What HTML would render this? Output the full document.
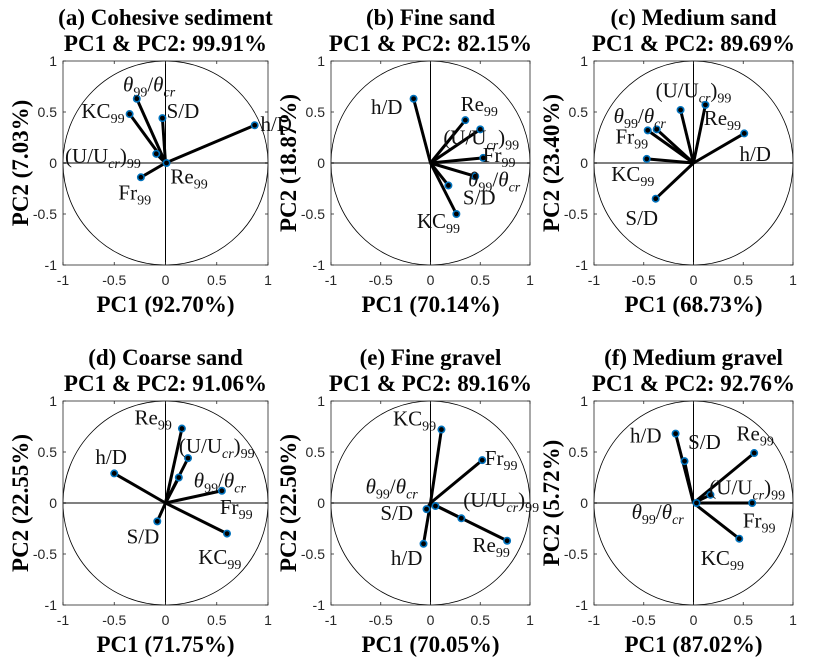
<!DOCTYPE html>
<html><head><meta charset="utf-8"><style>
html,body{margin:0;padding:0;background:#fff;}
svg{display:block;}
.tick{font-family:"Liberation Sans",sans-serif;font-size:14px;fill:#262626;}
.ttl{font-family:"Liberation Serif",serif;font-size:23px;font-weight:bold;fill:#000;}
.lbl{font-family:"Liberation Serif",serif;font-size:21px;fill:#111;}
</style></head><body>
<svg id="fig" width="817" height="666" viewBox="0 0 817 666" xmlns="http://www.w3.org/2000/svg"></svg>
<script>
// ---- data (loadings per panel) ----
const vars = ['theta','KC','SD','hD','U','Re','Fr'];
const titlesA = ['(a) Cohesive sediment','(b) Fine sand','(c) Medium sand','(d) Coarse sand','(e) Fine gravel','(f) Medium gravel'];
const totals = ['99.91%','82.15%','89.69%','91.06%','89.16%','92.76%'];
const pc1Pct = ['92.70%','70.14%','68.73%','71.75%','70.05%','87.02%'];
const pc2Pct = ['7.03%','18.87%','23.40%','22.55%','22.50%','5.72%'];
// PC1 / PC2 loadings, order of vars
const pc1A = [-0.28,-0.35,-0.03,0.87,-0.09,0.01,-0.24];
const pc2A = [0.63,0.48,0.44,0.37,0.09,0.00,-0.14];
const pc1B = [0.45,0.26,0.18,-0.17,0.50,0.35,0.53];
const pc2B = [-0.13,-0.50,-0.22,0.63,0.33,0.42,0.05];
const pc1C = [-0.37,-0.47,-0.38,0.51,-0.13,0.12,-0.46];
const pc2C = [0.33,0.04,-0.35,0.29,0.52,0.57,0.32];
const pc1D = [0.13,0.60,-0.08,-0.50,0.22,0.16,0.55];
const pc2D = [0.25,-0.30,-0.18,0.29,0.44,0.73,0.12];
const pc1E = [0.05,0.11,-0.04,-0.07,0.31,0.77,0.52];
const pc2E = [-0.03,0.72,-0.06,-0.40,-0.15,-0.37,0.42];
const pc1F = [0.03,0.46,-0.09,-0.18,0.17,0.61,0.59];
const pc2F = [0.00,-0.35,0.41,0.68,0.08,0.49,0.00];
// label anchor positions (data units)
const lxA = [-0.16,-0.61,0.17,1.08,-0.61,0.23,-0.30];
const lyA = [0.77,0.51,0.51,0.38,0.07,-0.13,-0.29];
const lxB = [0.64,0.08,0.49,-0.44,0.51,0.49,0.69];
const lyB = [-0.16,-0.57,-0.34,0.55,0.25,0.58,0.08];
const lxC = [-0.54,-0.61,-0.52,0.62,0.00,0.29,-0.62];
const lyC = [0.46,-0.11,-0.54,0.09,0.71,0.44,0.26];
const lxD = [0.53,0.53,-0.22,-0.53,0.50,-0.12,0.69];
const lyD = [0.22,-0.53,-0.33,0.45,0.56,0.84,-0.04];
const lxE = [-0.39,-0.16,-0.34,-0.24,0.71,0.61,0.71];
const lyE = [0.16,0.83,-0.10,-0.54,0.03,-0.41,0.44];
const lxF = [-0.36,0.29,0.11,-0.48,0.54,0.62,0.66];
const lyF = [-0.09,-0.54,0.60,0.66,0.15,0.68,-0.17];
const tickVals = [-1,-0.5,0,0.5,1];
const tickLabels = ['-1','-0.5','0','0.5','1'];

const panels = [
 {x0:63,x1:268,y0:61,y1:265,p1:pc1A,p2:pc2A,lx:lxA,ly:lyA},
 {x0:331,x1:530,y0:61,y1:265,p1:pc1B,p2:pc2B,lx:lxB,ly:lyB},
 {x0:594,x1:793,y0:61,y1:265,p1:pc1C,p2:pc2C,lx:lxC,ly:lyC},
 {x0:63,x1:268,y0:401,y1:605,p1:pc1D,p2:pc2D,lx:lxD,ly:lyD},
 {x0:331,x1:530,y0:401,y1:605,p1:pc1E,p2:pc2E,lx:lxE,ly:lyE},
 {x0:594,x1:793,y0:401,y1:605,p1:pc1F,p2:pc2F,lx:lxF,ly:lyF}
];
const NS='http://www.w3.org/2000/svg';
const fig=document.getElementById('fig');
function mk(tag,attrs,parent){const e=document.createElementNS(NS,tag);for(const k in attrs)e.setAttribute(k,attrs[k]);(parent||fig).appendChild(e);return e;}
function seg(t,txt,isSub,it){
 const s=mk('tspan',{},t);
 if(isSub){s.setAttribute('font-size','14');}
 if(it){s.setAttribute('font-style','italic');}
 s.textContent=txt;return s;
}
// pieces: [text, sub?, italic?]
const pieces={
 theta:[['θ',0,1],['99',1,0],['/',0,0],['θ',0,1],['cr',1,1]],
 KC:[['KC',0,0],['99',1,0]],
 SD:[['S/D',0,0]],
 hD:[['h/D',0,0]],
 U:[['(U/U',0,0],['cr',1,1],[')',0,0],['99',1,0]],
 Re:[['Re',0,0],['99',1,0]],
 Fr:[['Fr',0,0],['99',1,0]]
};
function labelText(t,v){
 let cur=0;
 pieces[v].forEach(p=>{
  const s=seg(t,p[0],p[1],p[2]);
  const want=p[1]?5:0;
  if(want!==cur){s.setAttribute('dy',want-cur);cur=want;}
 });
}
panels.forEach((P,i)=>{
 const g=mk('g',{});
 
 
 const sx=v=>P.x0+(v+1)/2*(P.x1-P.x0);
 const sy=v=>P.y1-(v+1)/2*(P.y1-P.y0);
 const cx=(P.x0+P.x1)/2, cy=(P.y0+P.y1)/2;
 mk('rect',{x:P.x0,y:P.y0,width:P.x1-P.x0,height:P.y1-P.y0,fill:'#fff',stroke:'none'},g);
 const circ=mk('ellipse',{cx:sx(0),cy:sy(0),rx:sx(1)-sx(0),ry:sy(0)-sy(1),fill:'none',stroke:'#000','stroke-width':0.8},g);
 
 
 mk('line',{x1:P.x0,x2:P.x1,y1:sy(0),y2:sy(0),stroke:'#808080','stroke-width':2},g);
 mk('line',{x1:sx(0),x2:sx(0),y1:P.y0,y2:P.y1,stroke:'#000','stroke-width':1},g);
 tickVals.forEach((tv,k)=>{
  const X=sx(tv),Y=sy(tv);
  mk('line',{x1:X,x2:X,y1:P.y1,y2:P.y1-3,stroke:'#262626','stroke-width':0.8},g);
  mk('line',{x1:X,x2:X,y1:P.y0,y2:P.y0+3,stroke:'#262626','stroke-width':0.8},g);
  mk('line',{x1:P.x0,x2:P.x0+3,y1:Y,y2:Y,stroke:'#262626','stroke-width':0.8},g);
  mk('line',{x1:P.x1,x2:P.x1-3,y1:Y,y2:Y,stroke:'#262626','stroke-width':0.8},g);
  const tx=mk('text',{class:'tick',x:X,y:P.y1+20,'text-anchor':'middle'},g);tx.textContent=tickLabels[k];
  
  
  const ty=mk('text',{class:'tick',x:P.x0-6,y:Y+5,'text-anchor':'end'},g);ty.textContent=tickLabels[k];
  
  
 });
 mk('rect',{x:P.x0,y:P.y0,width:P.x1-P.x0,height:P.y1-P.y0,fill:'none',stroke:'#262626','stroke-width':0.8},g);
 vars.forEach((v,k)=>{
  const ln=mk('line',{x1:sx(0),y1:sy(0),x2:sx(P.p1[k]),y2:sy(P.p2[k]),stroke:'#000','stroke-width':3},g);
  
  
 });
 vars.forEach((v,k)=>{
  const c=mk('circle',{cx:sx(P.p1[k]),cy:sy(P.p2[k]),r:3.2,fill:'#000',stroke:'#0072BD','stroke-width':1.6},g);
  
  
  const t=mk('text',{class:'lbl',x:sx(P.lx[k]),y:sy(P.ly[k])+7,'text-anchor':'middle'},g);
  labelText(t,v);
  
  
 });
 const t1=mk('text',{class:'ttl',x:cx,y:P.y0-36,'text-anchor':'middle'},g);t1.textContent=titlesA[i];
 
 
 const t2=mk('text',{class:'ttl',x:cx,y:P.y0-10,'text-anchor':'middle'},g);t2.textContent='PC1 & PC2: '+totals[i];
 
 
 const xl=mk('text',{class:'ttl',x:cx,y:P.y1+47,'text-anchor':'middle'},g);xl.textContent='PC1 ('+pc1Pct[i]+')';
 
 
 const yx=P.x0-35;
 const yl=mk('text',{class:'ttl',x:yx,y:cy,'text-anchor':'middle',transform:'rotate(-90 '+yx+' '+cy+')'},g);yl.textContent='PC2 ('+pc2Pct[i]+')';
 
 
});
</script>
</body></html>
